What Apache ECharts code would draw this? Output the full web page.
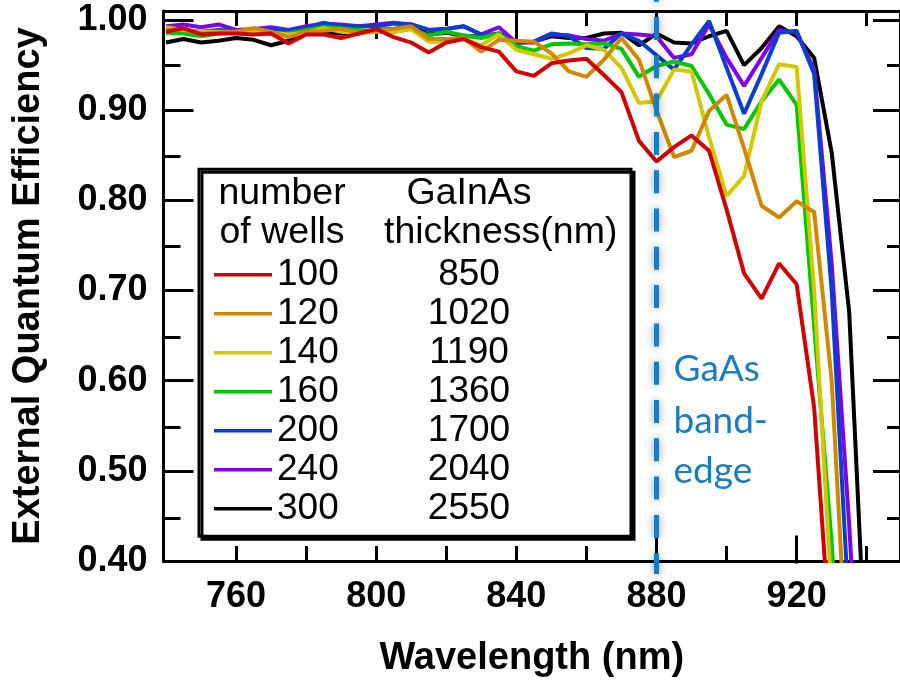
<!DOCTYPE html>
<html>
<head>
<meta charset="utf-8">
<script src="https://cdn.jsdelivr.net/npm/echarts@6/dist/echarts.min.js"></script>
<style>
  html, body { margin: 0; padding: 0; background: #ffffff; }
  #chart { width: 900px; height: 683px; }
</style>
</head>
<body>
<div id="chart"></div>
<script>
// Wavelength grid (nm) shared by every EQE curve
const wavelength = [740, 745, 750, 755, 760, 765, 770, 775, 780, 785, 790, 795, 800, 805, 810,
  815, 820, 825, 830, 835, 840, 845, 850, 855, 860, 865, 870, 875, 880, 885, 890, 895, 900,
  905, 910, 915, 920, 925, 930, 935, 940];

// Legend columns: number of quantum wells and GaInAs thickness (nm)
const wells = ['100', '120', '140', '160', '200', '240', '300'];
const thickness = ['850', '1020', '1190', '1360', '1700', '2040', '2550'];

// External quantum efficiency per structure (starting at 740 nm, 5 nm steps)
const eqe100 = [0.987, 0.991, 0.984, 0.985, 0.985, 0.984, 0.985, 0.974, 0.984, 0.984, 0.980, 0.985,
  0.990, 0.981, 0.975, 0.964, 0.975, 0.979, 0.970, 0.965, 0.943, 0.938, 0.952, 0.955, 0.957, 0.939,
  0.920, 0.866, 0.843, 0.859, 0.872, 0.855, 0.790, 0.719, 0.691, 0.730, 0.707, 0.570, 0.290];
const eqe120 = [0.989, 0.990, 0.985, 0.986, 0.987, 0.991, 0.987, 0.981, 0.987, 0.988, 0.990, 0.986,
  0.988, 0.990, 0.993, 0.979, 0.979, 0.980, 0.965, 0.978, 0.977, 0.976, 0.963, 0.943, 0.937, 0.956,
  0.980, 0.956, 0.900, 0.848, 0.855, 0.899, 0.917, 0.858, 0.794, 0.781, 0.799, 0.787, 0.600, 0.240];
const eqe140 = [0.992, 0.989, 0.987, 0.987, 0.987, 0.988, 0.986, 0.984, 0.986, 0.991, 0.987, 0.985,
  0.987, 0.987, 0.990, 0.976, 0.976, 0.979, 0.972, 0.984, 0.967, 0.962, 0.957, 0.963, 0.972, 0.967,
  0.947, 0.908, 0.910, 0.945, 0.943, 0.870, 0.805, 0.827, 0.910, 0.951, 0.948, 0.700, 0.360];
const eqe160 = [0.986, 0.985, 0.982, 0.985, 0.986, 0.987, 0.985, 0.985, 0.989, 0.992, 0.991, 0.989,
  0.987, 0.987, 0.990, 0.983, 0.987, 0.983, 0.980, 0.985, 0.971, 0.966, 0.973, 0.974, 0.973, 0.974,
  0.968, 0.937, 0.949, 0.954, 0.949, 0.918, 0.884, 0.879, 0.910, 0.934, 0.906, 0.660, 0.420, 0.100];
const eqe200 = [0.990, 0.989, 0.987, 0.989, 0.988, 0.988, 0.990, 0.988, 0.991, 0.997, 0.993, 0.993,
  0.993, 0.996, 0.995, 0.989, 0.990, 0.993, 0.984, 0.983, 0.975, 0.976, 0.985, 0.982, 0.969, 0.968,
  0.985, 0.977, 0.961, 0.945, 0.973, 0.999, 0.947, 0.896, 0.940, 0.986, 0.988, 0.940, 0.700, 0.340];
const eqe240 = [0.993, 0.995, 0.992, 0.995, 0.989, 0.990, 0.992, 0.989, 0.993, 0.996, 0.995, 0.993,
  0.995, 0.997, 0.995, 0.989, 0.990, 0.993, 0.984, 0.992, 0.975, 0.975, 0.984, 0.983, 0.979, 0.977,
  0.985, 0.984, 0.982, 0.958, 0.962, 0.995, 0.958, 0.927, 0.958, 0.989, 0.986, 0.945, 0.730, 0.440, 0.100];
const eqe300 = [0.975, 0.979, 0.975, 0.977, 0.980, 0.978, 0.972, 0.977, 0.985, 0.985, 0.985, 0.985,
  0.989, 0.990, 0.993, 0.984, 0.986, 0.982, 0.982, 0.985, 0.975, 0.976, 0.982, 0.980, 0.980, 0.985,
  0.986, 0.972, 0.985, 0.975, 0.974, 0.982, 0.988, 0.950, 0.969, 0.993, 0.982, 0.958, 0.853, 0.676, 0.264];

// Axis ticks and labels
const xTicks = [760, 780, 800, 820, 840, 860, 880, 900, 920, 940];
const xLabels = [760, 800, 840, 880, 920];
const xLongBottom = [880, 920];
const xLongTop = [800, 840, 880];
const yMajor = [0.4, 0.5, 0.6, 0.7, 0.8, 0.9, 1.0];
const yMinor = [0.45, 0.55, 0.65, 0.75, 0.85, 0.95];

// GaAs band edge marker
const bandEdge = 880;
const bandEdgeText = ['GaAs', 'band-', 'edge'];

const xMin = 739.3, xMax = 949.5, yMin = 0.40, yMax = 1.01;
const sansFont = '"Liberation Sans", Arial, Helvetica, sans-serif';
const edgeBlue = '#1B7CC1';

// Drawing order: thickest stack at the back, 100 wells on top
const curves = [
  { name: '300', values: eqe300, color: '#000000' },
  { name: '240', values: eqe240, color: '#8000EE' },
  { name: '200', values: eqe200, color: '#0A3ED0' },
  { name: '160', values: eqe160, color: '#00C800' },
  { name: '140', values: eqe140, color: '#D2C800' },
  { name: '120', values: eqe120, color: '#D08800' },
  { name: '100', values: eqe100, color: '#D20000' }
];

const chart = echarts.init(document.getElementById('chart'), null, { renderer: 'canvas' });

const gridRect = { left: 163.5, right: 0, top: 11, bottom: 119.4 };

function xAxisDef(gridIndex, position, ticks, len, showLine, extra) {
  return Object.assign({
    type: 'value', gridIndex, position, min: xMin, max: xMax,
    axisLine: { show: showLine, onZero: false, lineStyle: { color: '#000', width: 3 } },
    axisTick: { show: true, inside: true, length: len, customValues: ticks,
                lineStyle: { color: '#000', width: 3 } },
    axisLabel: { show: false },
    splitLine: { show: false }
  }, extra || {});
}
function yAxisDef(gridIndex, position, ticks, len, showLine, extra) {
  return Object.assign({
    type: 'value', gridIndex, position, min: yMin, max: yMax,
    axisLine: { show: showLine, onZero: false, lineStyle: { color: '#000', width: 3 } },
    axisTick: { show: true, inside: true, length: len, customValues: ticks,
                lineStyle: { color: '#000', width: 3 } },
    axisLabel: { show: false },
    splitLine: { show: false }
  }, extra || {});
}

const option = {
  animation: false,
  backgroundColor: '#ffffff',
  grid: [Object.assign({}, gridRect), Object.assign({}, gridRect)],
  xAxis: [
    xAxisDef(0, 'bottom', xTicks, 15, true, {
      axisLabel: { show: true, customValues: xLabels, margin: 18, fontSize: 36, fontWeight: 'bold',
                   color: '#000', fontFamily: sansFont },
      name: 'Wavelength (nm)', nameLocation: 'middle', nameGap: 79,
      nameTextStyle: { fontSize: 38, fontWeight: 'bold', color: '#000', fontFamily: sansFont }
    }),
    xAxisDef(0, 'top', xTicks, 15, true),
    xAxisDef(1, 'bottom', xLongBottom, 28, false),
    xAxisDef(1, 'top', xLongTop, 28, false)
  ],
  yAxis: [
    yAxisDef(0, 'left', yMajor, 30, true, {
      axisLabel: { show: true, customValues: yMajor, margin: 16, fontSize: 36, fontWeight: 'bold',
                   color: '#000', fontFamily: sansFont, formatter: v => v.toFixed(2) },
      name: 'External Quantum Efficiency', nameLocation: 'middle', nameGap: 116,
      nameTextStyle: { fontSize: 38, fontWeight: 'bold', color: '#000', fontFamily: sansFont }
    }),
    yAxisDef(0, 'right', yMajor, 27, true),
    yAxisDef(1, 'left', yMinor, 17, false),
    yAxisDef(1, 'right', yMinor, 13, false)
  ],
  legend: {
    data: wells,
    orient: 'vertical',
    left: 199,
    top: 169.3,
    padding: [86, 70, 8, 15],
    itemWidth: 58,
    itemHeight: 3.5,
    itemGap: 0,
    icon: 'rect',
    selectedMode: false,
    backgroundColor: '#ffffff',
    borderColor: '#000000',
    borderWidth: 3,
    shadowColor: '#000000',
    shadowBlur: 0,
    shadowOffsetX: 3,
    shadowOffsetY: 3,
    z: 20,
    formatter: name => '{a|' + name + '}{b|' + thickness[wells.indexOf(name)] + '}',
    textStyle: {
      fontFamily: sansFont, fontSize: 37, color: '#000',
      rich: {
        a: { width: 100, fontSize: 37, fontFamily: sansFont, color: '#000', lineHeight: 39, height: 39 },
        b: { width: 184, align: 'center', fontSize: 37, fontFamily: sansFont, color: '#000', lineHeight: 39, height: 39 }
      }
    }
  },
  series: curves.map(c => ({
    type: 'line',
    name: c.name,
    xAxisIndex: 0,
    yAxisIndex: 0,
    data: c.values.map((v, i) => [wavelength[i], v]),
    symbol: 'none',
    showSymbol: false,
    clip: true,
    lineStyle: { width: 4, color: c.color },
    itemStyle: { color: c.color }
  }))
};

chart.setOption(option);

// Overlays placed through the axis scales: legend headers, band-edge marker and its caption
const edgeX = chart.convertToPixel({ xAxisIndex: 0 }, bandEdge);
const headFont = '37.5px ' + sansFont;
const noteFont = '37px Lato, "Open Sans", sans-serif';

function label(text, x, y, font, fill, align) {
  return {
    type: 'text', z: 100, silent: true,
    style: { text, x, y, font, fill, textAlign: align, align, textVerticalAlign: 'middle', verticalAlign: 'middle' }
  };
}

chart.setOption({
  graphic: [
    label('number', 218.5, 193.9, headFont, '#000', 'left'),
    label('of wells', 219.5, 232.2, headFont, '#000', 'left'),
    label('GaInAs', 469, 193.9, headFont, '#000', 'center'),
    label('thickness(nm)', 384, 232.2, headFont, '#000', 'left'),
    {
      type: 'line', z: 90, silent: true,
      shape: { x1: edgeX, y1: -21.3, x2: edgeX, y2: 574 },
      style: { stroke: edgeBlue, lineWidth: 5, lineDash: [23, 15.3],
               shadowBlur: 8, shadowColor: 'rgba(0,0,0,0.45)' }
    },
    label(bandEdgeText[0], edgeX + 17, 368.7, noteFont, edgeBlue, 'left'),
    label(bandEdgeText[1], edgeX + 17, 420.7, noteFont, edgeBlue, 'left'),
    label(bandEdgeText[2], edgeX + 17, 470.7, noteFont, edgeBlue, 'left')
  ]
});
</script>
</body>
</html>
